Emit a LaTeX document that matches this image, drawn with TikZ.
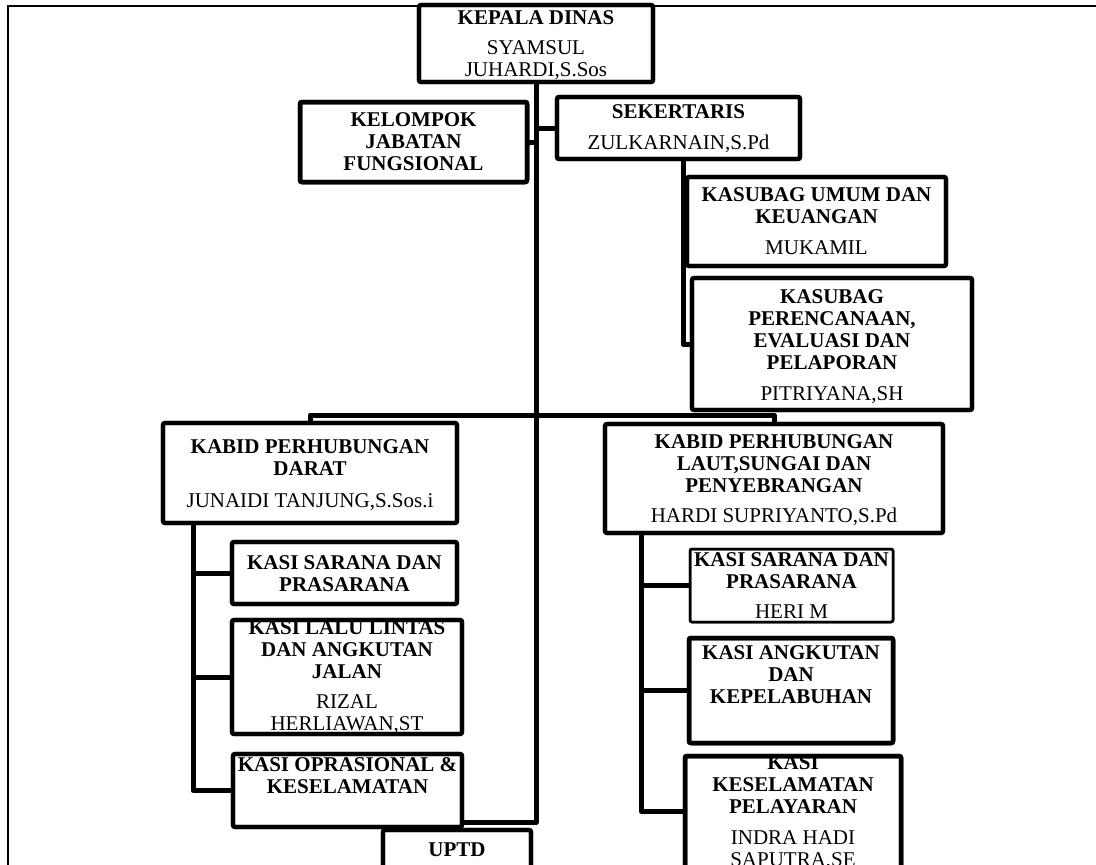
\documentclass[tikz,border=0pt]{standalone}
\usepackage{fontspec}
\setmainfont{Liberation Serif}
\tikzset{
  box/.style={draw, fill=white, rounded corners=2pt, inner sep=0pt, outer sep=0pt},
  conn/.style={line width=5pt, line join=round},
  txt/.style={font=\fontsize{21}{22}\selectfont, align=center, inner sep=0pt, anchor=north},
  frameline/.style={line width=2.5pt},
}
% name, x1, y1, x2, y2, line width, first-line centre y, text
\newcommand\obox[8]{%
  \node[box, line width=#6pt, minimum width={(#4-#2)*1pt}, minimum height={(#5-#3)*1pt}] (#1) at ({(#2+#4)/2},{(#3+#5)/2}) {};
  \begin{scope}
    \clip ({#2+#6/2},{#3+#6/2}) rectangle ({#4-#6/2},{#5-#6/2});
    \node[txt] (#1-t) at ({(#2+#4)/2},{#7-7.2}) {#8};
  \end{scope}
  \draw[line width=#6pt, rounded corners=2pt] (#1.south west) rectangle (#1.north east);
}
\begin{document}
\begin{tikzpicture}[x=1pt,y=-1pt]
\useasboundingbox (0,0) rectangle (1096,865);
\clip (0,0) rectangle (1096,865);
\fill[white] (0,0) rectangle (1096,865);
\coordinate (fa) at (8,870);
\coordinate (fb) at (8,6);
\coordinate (fc) at (1100,6);
\draw[frameline] (fa) -- (fb) -- (fc);

\obox{kep}{419}{5}{653}{82}{4.2}{18}{\textbf{KEPALA DINAS}\\[8pt] SYAMSUL\\ JUHARDI,S.Sos}
\obox{kel}{300}{102}{527}{182}{4.5}{120}{\textbf{KELOMPOK}\\ \textbf{JABATAN}\\ \textbf{FUNGSIONAL}}
\obox{sek}{557}{97}{800}{159}{4.2}{112}{\textbf{SEKERTARIS}\\[9pt] ZULKARNAIN,S.Pd}
\obox{kum}{687}{177}{946}{266}{4.2}{195}{\textbf{KASUBAG UMUM DAN}\\ \textbf{KEUANGAN}\\[9pt] MUKAMIL}
\obox{kpe}{692}{278}{972}{410}{4.2}{297}{\textbf{KASUBAG}\\ \textbf{PERENCANAAN,}\\ \textbf{EVALUASI DAN}\\ \textbf{PELAPORAN}\\[9pt] PITRIYANA,SH}
\obox{dar}{163}{423}{457}{523}{4.2}{447}{\textbf{KABID PERHUBUNGAN}\\ \textbf{DARAT}\\[10pt] JUNAIDI TANJUNG,S.Sos.i}
\obox{lau}{605}{424}{943}{533}{4.2}{442}{\textbf{KABID PERHUBUNGAN}\\ \textbf{LAUT,SUNGAI DAN}\\ \textbf{PENYEBRANGAN}\\[8pt] HARDI SUPRIYANTO,S.Pd}
\obox{ksd}{232}{542}{457}{604}{4.2}{563}{\textbf{KASI SARANA DAN}\\ \textbf{PRASARANA}}
\obox{kll}{232}{620}{462}{734}{4.2}{628}{\textbf{KASI LALU LINTAS}\\ \textbf{DAN ANGKUTAN}\\ \textbf{JALAN}\\[8pt] RIZAL\\ HERLIAWAN,ST}
\obox{kop}{233}{754}{462}{827}{4.2}{765}{\textbf{KASI OPRASIONAL \&}\\ \textbf{KESELAMATAN}}
\obox{ksl}{690}{549}{893}{622}{2.5}{560}{\textbf{KASI SARANA DAN}\\ \textbf{PRASARANA}\\[8pt] HERI M}
\obox{kak}{689}{638}{893}{743}{4.5}{653}{\textbf{KASI ANGKUTAN}\\ \textbf{DAN}\\ \textbf{KEPELABUHAN}}
\obox{kkp}{685}{756}{901}{900}{4.5}{763}{\textbf{KASI}\\ \textbf{KESELAMATAN}\\ \textbf{PELAYARAN}\\[9pt] INDRA HADI\\ SAPUTRA,SE}
\obox{upt}{383}{830}{531}{900}{4.2}{850}{\textbf{UPTD}}

% trunk
\coordinate (tb) at (536,822);
\draw[conn] (kep.south) -- (tb) -- (tb -| kop.east);
\draw[conn] (kel.east) -- (kel.east -| kep.south);
\draw[conn] (sek.west) -- (sek.west -| kep.south);
% sekertaris branch
\coordinate (sv) at (683,159);
\draw[conn] (sv) |- (kpe.west);
\draw[conn] (kum.west) -- (kum.west -| sv);
% bidang branch
\coordinate (br) at (0,415);
\draw[conn] (dar.north) -- (dar.north |- br) -| (lau.north);
% darat
\coordinate (dv) at (193,523);
\draw[conn] (dv) |- (kop.west);
\draw[conn] (ksd.west) -- (ksd.west -| dv);
\draw[conn] (kll.west) -- (kll.west -| dv);
% laut
\coordinate (lv) at (641,533);
\coordinate (lvb) at (641,811);
\draw[conn] (lv) -- (lvb) -- (lvb -| kkp.west);
\draw[conn] (ksl.west) -- (ksl.west -| lv);
\draw[conn] (kak.west) -- (kak.west -| lv);
\end{tikzpicture}
\end{document}
